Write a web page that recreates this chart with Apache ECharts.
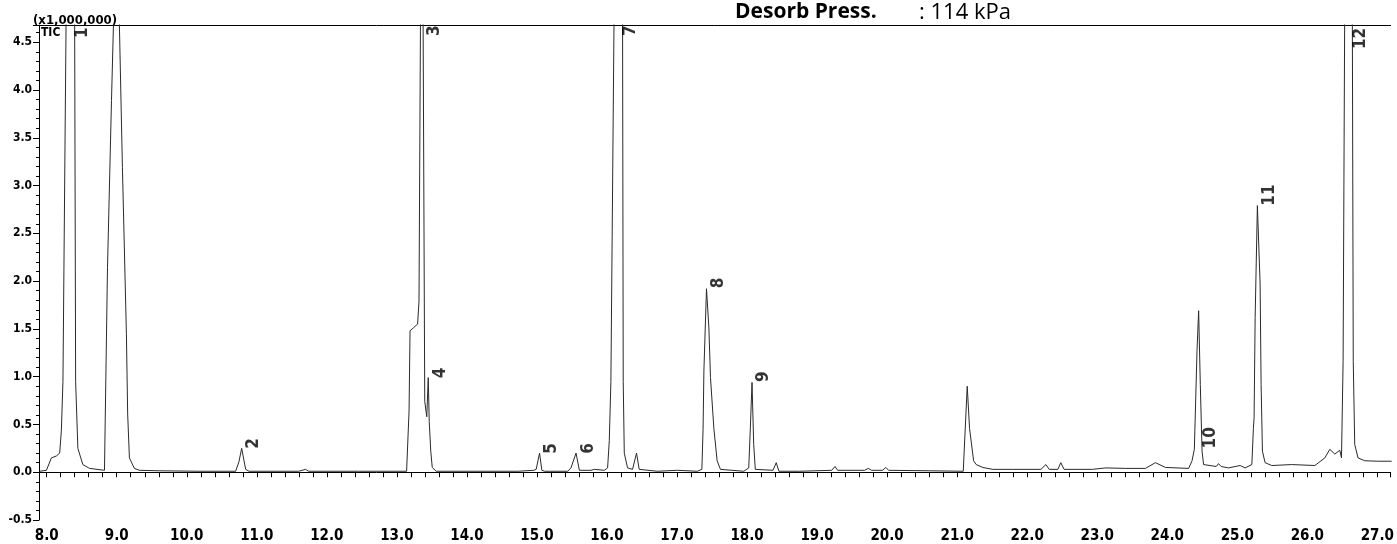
<!DOCTYPE html>
<html>
<head>
<meta charset="utf-8">
<script src="https://cdn.jsdelivr.net/npm/echarts@6/dist/echarts.min.js"></script>
<style>
  html, body { margin: 0; padding: 0; background: #fff; }
  #chart { width: 1397px; height: 544px; }
</style>
</head>
<body>
<div id="chart"></div>
<script>
// retention time (min) and TIC intensity (x1,000,000)
const rt = [
  7.900, 7.996, 8.067, 8.138, 8.185, 8.209, 8.232, 8.280, 8.341, 8.398, 8.413, 8.445, 8.516, 8.612, 8.825,
  8.839, 8.868, 8.925, 8.953, 8.994, 9.038, 9.081, 9.138, 9.156, 9.181, 9.252, 9.323, 9.607, 10.176,
  10.698, 10.745, 10.784, 10.841, 10.888, 11.599, 11.694, 11.741, 12.452, 13.139, 13.150,
  13.174, 13.188, 13.235, 13.296, 13.316, 13.339, 13.356, 13.373, 13.398, 13.427, 13.448, 13.462, 13.484, 13.505, 13.562,
  14.159, 14.728, 14.956, 14.989, 15.037, 15.070, 15.112, 15.439, 15.486, 15.558, 15.606, 15.771, 15.819, 15.962,
  16.009, 16.033, 16.056, 16.104, 16.162, 16.222, 16.232, 16.247, 16.294, 16.365, 16.422, 16.460, 16.720, 17.004,
  17.289, 17.355, 17.372, 17.384, 17.421, 17.455, 17.478, 17.526, 17.573, 17.620, 17.953,
  18.024, 18.047, 18.071, 18.095, 18.118, 18.370, 18.417, 18.455, 18.754, 19.209, 19.256, 19.294,
  19.678, 19.731, 19.778, 19.935, 19.982, 20.021, 20.603, 21.087, 21.106, 21.144, 21.177, 21.235, 21.272, 21.367, 21.509,
  21.794, 22.196, 22.267, 22.314, 22.438, 22.480, 22.527, 22.931, 23.120, 23.405, 23.689, 23.831, 23.974,
  24.306, 24.354, 24.387, 24.425, 24.448, 24.472, 24.497, 24.519, 24.543, 24.700, 24.732, 24.770, 24.875,
  25.041, 25.112, 25.208, 25.230, 25.240, 25.255, 25.287, 25.326, 25.340, 25.359, 25.397, 25.492, 25.777,
  26.108, 26.250, 26.321, 26.393, 26.464, 26.488, 26.511, 26.535, 26.592, 26.642, 26.656, 26.677, 26.724, 26.820,
  27.005, 27.204
];
const tic = [
  0.01, 0.02, 0.15, 0.17, 0.20, 0.43, 0.95, 5.0, 9.0, 5.0, 0.95, 0.25, 0.08, 0.04, 0.02,
  0.04, 2.14, 3.89, 4.68, 6.4, 4.68, 3.19, 1.45, 0.61, 0.15, 0.04, 0.02, 0.015, 0.01,
  0.01, 0.11, 0.25, 0.03, 0.01, 0.01, 0.03, 0.01, 0.01, 0.01, 0.02,
  0.64, 1.48, 1.51, 1.55, 1.79, 5.0, 12.0, 5.0, 0.74, 0.58, 0.99, 0.53, 0.22, 0.05, 0.01,
  0.01, 0.01, 0.02, 0.03, 0.20, 0.02, 0.01, 0.01, 0.045, 0.20, 0.02, 0.02, 0.03, 0.02,
  0.045, 0.33, 0.95, 5.0, 10.0, 5.0, 0.95, 0.20, 0.045, 0.03, 0.20, 0.03, 0.01, 0.02,
  0.01, 0.03, 0.45, 1.06, 1.92, 1.51, 0.99, 0.46, 0.12, 0.03, 0.01,
  0.045, 0.46, 0.94, 0.29, 0.03, 0.02, 0.10, 0.01, 0.01, 0.02, 0.06, 0.02,
  0.02, 0.04, 0.02, 0.02, 0.05, 0.02, 0.015, 0.01, 0.02, 0.90, 0.46, 0.12, 0.08, 0.05, 0.03,
  0.03, 0.03, 0.08, 0.03, 0.03, 0.10, 0.03, 0.03, 0.045, 0.04, 0.04, 0.10, 0.05,
  0.04, 0.12, 0.24, 1.27, 1.69, 0.92, 0.22, 0.08, 0.06, 0.06, 0.09, 0.06, 0.045,
  0.07, 0.045, 0.08, 0.46, 0.57, 1.62, 2.79, 1.97, 0.92, 0.22, 0.10, 0.07, 0.08,
  0.07, 0.15, 0.24, 0.19, 0.23, 0.15, 1.16, 5.0, 9.0, 5.0, 1.16, 0.29, 0.15, 0.12,
  0.115, 0.115
];

// peak numbers, their retention times and the height where the number sits
const peakNo = ['1', '2', '3', '4', '5', '6', '7', '8', '9', '10', '11', '12'];
const peakRt = [8.34, 10.78, 13.36, 13.45, 15.04, 15.56, 16.16, 17.42, 18.07, 24.45, 25.29, 26.59];
const peakLabelTic = [4.60, 0.30, 4.62, 1.04, 0.25, 0.25, 4.62, 1.98, 1.00, 0.36, 2.90, 4.54];

const narrow = '"Liberation Sans Narrow", "DejaVu Sans Condensed", "Arial Narrow", sans-serif';

const chart = echarts.init(document.getElementById('chart'));

const option = {
  animation: false,
  grid: { left: 39, right: 0, top: 25, bottom: 23 },
  xAxis: [
    {
      type: 'value',
      min: 7.89,
      max: 27.19,
      splitNumber: 19,
      axisLine: { show: true, lineStyle: { color: '#000', width: 1 } },
      axisTick: { show: true, length: 5, lineStyle: { color: '#000' } },
      minorTick: { show: true, splitNumber: 5, length: 5, lineStyle: { color: '#000' } },
      splitLine: { show: false },
      axisLabel: {
        margin: 9,
        color: '#000',
        fontFamily: narrow,
        fontWeight: 'bold',
        fontSize: 15,
        showMinLabel: false,
        showMaxLabel: false,
        formatter: v => v.toFixed(1)
      }
    },
    {
      // top frame line
      type: 'value',
      position: 'top',
      min: 7.89,
      max: 27.19,
      axisLine: { show: true, lineStyle: { color: '#000', width: 1 } },
      axisTick: { show: false },
      axisLabel: { show: false },
      splitLine: { show: false }
    }
  ],
  yAxis: {
    type: 'value',
    min: -0.5,
    max: 4.68,
    interval: 0.5,
    axisLine: { show: true, lineStyle: { color: '#000', width: 1 } },
    axisTick: { show: true, length: 6, lineStyle: { color: '#000' } },
    minorTick: { show: true, splitNumber: 5, length: 3, lineStyle: { color: '#000' } },
    splitLine: { show: false },
    axisLabel: {
      margin: 7,
      color: '#000',
      fontFamily: narrow,
      fontWeight: 'bold',
      fontSize: 12,
      showMaxLabel: false,
      formatter: v => v.toFixed(1)
    }
  },
  graphic: [
    {
      type: 'text', left: 33, top: 14,
      style: { text: '(x1,000,000)', font: 'bold 13px ' + narrow, fill: '#000' }
    },
    {
      type: 'text', left: 41, top: 27,
      style: { text: 'TIC', font: 'bold 12px ' + narrow, fill: '#000' }
    },
    {
      type: 'text', left: 735, top: 2,
      style: { text: 'Desorb Press.', font: 'bold 21px "Open Sans", sans-serif', fill: '#000' }
    },
    {
      type: 'text', left: 919, top: 2,
      style: { text: ': 114 kPa', font: '22px "Open Sans", sans-serif', fill: '#000' }
    }
  ],
  series: [
    {
      name: 'TIC',
      type: 'line',
      data: rt.map((t, i) => [t, tic[i]]),
      showSymbol: false,
      symbol: 'none',
      clip: true,
      lineStyle: { color: '#2a2a2a', width: 1 },
      z: 2
    },
    {
      name: 'peaks',
      type: 'scatter',
      data: peakRt.map((t, i) => ({ value: [t, peakLabelTic[i]], name: peakNo[i] })),
      symbolSize: 1,
      itemStyle: { color: 'rgba(0,0,0,0)' },
      label: {
        show: true,
        position: 'inside',
        // offset is applied in the rotated frame: +y moves the text to the right
        offset: [0, 12],
        rotate: 90,
        formatter: p => p.name,
        color: '#000',
        fontFamily: narrow,
        fontWeight: 'bold',
        fontSize: 17
      },
      z: 3
    }
  ]
};

chart.setOption(option);
</script>
</body>
</html>
